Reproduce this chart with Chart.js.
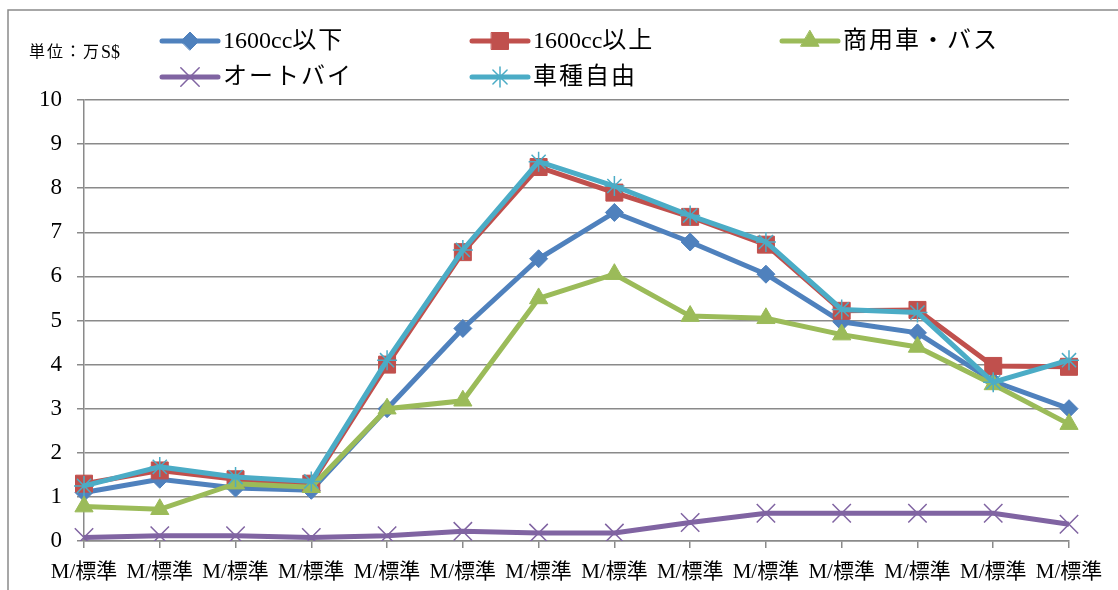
<!DOCTYPE html>
<html>
<head>
<meta charset="utf-8">
<script src="https://cdn.jsdelivr.net/npm/chart.js@4/dist/chart.umd.min.js"></script>
<style>
  html, body { margin: 0; padding: 0; background: #fff; }
  canvas { display: block; }
</style>
</head>
<body>
<canvas id="chart" width="1118" height="590"></canvas>
<script>
// categories (x axis)
const categories = ['M/標準', 'M/標準', 'M/標準', 'M/標準', 'M/標準', 'M/標準', 'M/標準',
                    'M/標準', 'M/標準', 'M/標準', 'M/標準', 'M/標準', 'M/標準', 'M/標準'];

// series values, 万S$
const below1600 = [1.1, 1.4, 1.2, 1.15, 3.0, 4.82, 6.4, 7.45, 6.78, 6.05, 4.97, 4.72, 3.62, 3.0];
const above1600 = [1.3, 1.6, 1.4, 1.3, 4.0, 6.55, 8.48, 7.9, 7.35, 6.72, 5.22, 5.24, 3.97, 3.95];
const commercial = [0.78, 0.72, 1.3, 1.22, 3.0, 3.18, 5.5, 6.05, 5.1, 5.05, 4.68, 4.4, 3.55, 2.65];
const motorcycle = [0.08, 0.12, 0.12, 0.08, 0.12, 0.22, 0.18, 0.18, 0.42, 0.63, 0.63, 0.63, 0.63, 0.38];
const openCat = [1.25, 1.68, 1.45, 1.35, 4.1, 6.6, 8.6, 8.05, 7.38, 6.78, 5.25, 5.18, 3.6, 4.1];

const yTicks = [0, 1, 2, 3, 4, 5, 6, 7, 8, 9, 10];

const SERIF = '"Liberation Serif", "Noto Sans CJK JP", serif';

function series(label, data, color, style, radius, order) {
    const thin = style === 'crossRot' || style === 'star';
    return {
        label: label,
        data: data,
        borderColor: color,
        backgroundColor: color,
        borderWidth: 5,
        tension: 0,
        pointStyle: style,
        pointRadius: radius,
        pointBorderWidth: thin ? 1.5 : 1,
        pointBorderColor: color,
        pointBackgroundColor: color,
        order: order
    };
}

const datasets = [
    series('1600cc以下', below1600, '#4F81BD', 'rectRot', 9, 4),
    series('1600cc以上', above1600, '#C0504D', 'rect', 12, 3),
    series('商用車・バス', commercial, '#9BBB59', 'triangle', 10.5, 2),
    series('オートバイ', motorcycle, '#8064A2', 'crossRot', 13, 1),
    series('車種自由', openCat, '#4BACC6', 'star', 10, 0)
];

// legend slots: [x of line start, row y]
const legendSlots = [[162, 41], [472, 41], [782, 41], [162, 77], [472, 77]];

// latin runs drawn tight, CJK runs with a little extra spacing
function drawMixed(ctx, text, x, y, latinSize, cjkSize, cjkGap) {
    const runs = text.match(/[\x00-\x7f]+|[^\x00-\x7f]+/g) || [];
    let cx = x;
    runs.forEach(run => {
        const latin = /^[\x00-\x7f]/.test(run);
        ctx.font = (latin ? latinSize : cjkSize) + 'px ' + SERIF;
        ctx.letterSpacing = latin ? '0px' : cjkGap + 'px';
        ctx.fillText(run, cx, y);
        cx += ctx.measureText(run).width;
    });
}

const frame = {
    id: 'frame',
    beforeDraw(chart) {
        const ctx = chart.ctx;
        ctx.save();
        ctx.fillStyle = '#fff';
        ctx.fillRect(0, 0, chart.width, chart.height);
        ctx.strokeStyle = '#8a8a8a';
        ctx.lineWidth = 1.5;
        ctx.strokeRect(8, 10, chart.width + 20, chart.height + 20);
        ctx.fillStyle = '#000';
        ctx.textBaseline = 'middle';
        drawMixed(ctx, '単位：万S$', 29, 53, 18, 16, 2);
        ctx.restore();
    },
    afterDraw(chart) {
        const ctx = chart.ctx;
        chart.data.datasets.forEach((ds, i) => {
            const [x, y] = legendSlots[i];
            ctx.save();
            ctx.strokeStyle = ds.borderColor;
            ctx.fillStyle = ds.backgroundColor;
            ctx.lineWidth = 5;
            ctx.lineCap = 'round';
            ctx.beginPath();
            ctx.moveTo(x, y);
            ctx.lineTo(x + 56, y);
            ctx.stroke();
            ctx.lineWidth = ds.pointBorderWidth;
            Chart.helpers.drawPoint(ctx, {
                pointStyle: ds.pointStyle,
                radius: ds.pointRadius,
                rotation: 0,
                borderWidth: ds.pointBorderWidth
            }, x + 28, y);
            ctx.fillStyle = '#000';
            ctx.textBaseline = 'middle';
            drawMixed(ctx, ds.label, x + 61, y + 1, 24, 24, 2);
            ctx.restore();
        });
    }
};

new Chart(document.getElementById('chart'), {
    type: 'line',
    data: { labels: categories, datasets: datasets },
    plugins: [frame],
    options: {
        responsive: false,
        animation: false,
        layout: { padding: { left: 0, right: 49, top: 100, bottom: 0 } },
        plugins: {
            legend: { display: false },
            tooltip: { enabled: false }
        },
        scales: {
            x: {
                offset: false,
                grid: {
                    drawOnChartArea: false,
                    drawTicks: true,
                    tickLength: 7,
                    color: '#8a8a8a',
                    lineWidth: 1.5
                },
                border: { color: '#8a8a8a', width: 1.5 },
                ticks: {
                    autoSkip: false,
                    maxRotation: 0,
                    minRotation: 0,
                    padding: 12,
                    color: '#000',
                    font: { family: SERIF, size: 21 }
                },
                afterFit: s => { s.height = 49; }
            },
            y: {
                min: yTicks[0],
                max: yTicks[yTicks.length - 1],
                afterBuildTicks: s => { s.ticks = yTicks.map(v => ({ value: v })); },
                grid: {
                    color: '#8a8a8a',
                    lineWidth: 1.5,
                    tickLength: 7
                },
                border: { color: '#8a8a8a', width: 1.5 },
                ticks: {
                    padding: 15,
                    color: '#000',
                    font: { family: SERIF, size: 23 }
                },
                afterFit: s => { s.width = 84; }
            }
        }
    }
});
</script>
</body>
</html>
